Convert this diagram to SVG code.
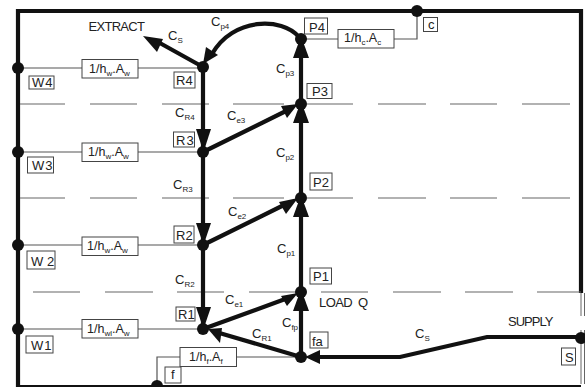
<svg xmlns="http://www.w3.org/2000/svg" width="585" height="387" viewBox="0 0 585 387">
<style>
text{font-family:"Liberation Sans",Arial,sans-serif;fill:#222;font-size:13px}
.r{font-size:12.5px}
.sub{font-size:8px}
.wall{fill:none;stroke:#111;stroke-width:4.2}
.thin{fill:none;stroke:#555;stroke-width:1.2}
.rail{fill:none;stroke:#666;stroke-width:1}
.dash{fill:none;stroke:#666;stroke-width:1.2}
.flow{fill:none;stroke:#111;stroke-width:4.2}
.box{fill:#fff;stroke:#444;stroke-width:1}
.dot{fill:#111}
.head{fill:#111}
</style>
<defs>
<circle id="n" r="6" class="dot"/>
</defs>
<rect width="585" height="387" fill="#fff"/>
<g id="connectors">
<path class="wall" d="M18 9V387M16 11H581V293M16 387H581"/>
<path class="rail" d="M581 293V316M584.5 293V316M581 330V384M584.5 330V384"/>
<path class="dash" d="M20 104H65M90 104H137M162 104H209M233 104H284"/>
<path class="dash" d="M20 198H65M90 198H137M162 198H209M233 198H284"/>
<path class="dash" d="M33 292H80M105 292H153M177 292H224M249 292H297"/>
<path class="dash" d="M307 104H353M378 104H426M450 104H497M522 104H570M307 198H353M378 198H426M450 198H497M522 198H570M321 292H368M393 292H441M465 292H513M537 292H581"/>
<path class="thin" d="M18 68H203M18 152H203M18 245H203M18 329H203M157 386V357H301M301 39H417V11"/>
<path class="flow" d="M203 67V329M301 39V357"/>
<path class="flow" d="M203 67L158 42M203 152L288 110M203 245L288 203M203 329L288 298M301 357L216 332M312 357H400L487 337H581"/>
<path class="flow" d="M299 37C282 17 233 17 212 54"/>
<g class="head">
<path d="M143 36L163 39L157 52Z"/>
<path d="M196 129H211L203.500 152Z"/>
<path d="M196 223H211L203.500 245Z"/>
<path d="M196 307H211L203.500 329Z"/>
<path d="M293 58H309L301 36Z"/>
<path d="M293 123H309L301 101Z"/>
<path d="M293 217H309L301 195Z"/>
<path d="M293 311H309L301 289Z"/>
<path d="M298 104L281 106L287 118Z"/>
<path d="M298 198L279 202L286 214Z"/>
<path d="M298 293L281 296L287 306Z"/>
<path d="M208 329L222 328L220 343Z"/>
<path d="M203 64L206 47L218 55Z"/>
<path d="M305 357L320 350V364Z"/>
</g>
</g>
<g id="W4"><use href="#n" x="18" y="68"/><rect class="box" x="29" y="76" width="25" height="13"/><text x="32" y="87" letter-spacing="1">W4</text></g>
<g id="W3"><use href="#n" x="18" y="152"/><rect class="box" x="27.500" y="157" width="26" height="16"/><text x="32" y="170" letter-spacing="1">W3</text></g>
<g id="W2"><use href="#n" x="18" y="245"/><rect class="box" x="27" y="251" width="28" height="18"/><text x="31" y="266">W 2</text></g>
<g id="W1"><use href="#n" x="18" y="329"/><rect class="box" x="26" y="336" width="27" height="17"/><text x="31" y="350" letter-spacing="1">W1</text></g>
<g id="R4"><use href="#n" x="203" y="67"/><rect class="box" x="174" y="72" width="21" height="16"/><text x="176" y="85">R4</text></g>
<g id="R3"><use href="#n" x="203" y="152"/><rect class="box" x="173.500" y="132" width="21" height="15"/><text x="176" y="145" letter-spacing="1">R3</text></g>
<g id="R2"><use href="#n" x="203" y="245"/><rect class="box" x="174" y="226" width="20" height="17"/><text x="176" y="240">R2</text></g>
<g id="R1"><use href="#n" x="203" y="329"/><rect class="box" x="176" y="307" width="19" height="14"/><text x="178" y="319">R1</text></g>
<g id="P4"><use href="#n" x="301" y="39"/><rect class="box" x="304.500" y="18" width="23" height="16"/><text x="309" y="32">P4</text></g>
<g id="P3"><use href="#n" x="301" y="104"/><rect class="box" x="307" y="83.500" width="25" height="15"/><text x="312" y="96">P3</text></g>
<g id="P2"><use href="#n" x="301" y="198"/><rect class="box" x="310" y="173" width="22" height="17"/><text x="313" y="187">P2</text></g>
<g id="P1"><use href="#n" x="301" y="292"/><rect class="box" x="310" y="268" width="21.500" height="16"/><text x="313" y="281">P1</text></g>
<g id="fa"><use href="#n" x="301" y="357"/><rect class="box" x="310" y="332" width="18" height="16"/><text x="312" y="346">fa</text></g>
<g id="c"><use href="#n" x="417" y="11"/><rect class="box" x="423.500" y="17.500" width="14" height="14"/><text x="428" y="29">c</text></g>
<g id="f"><use href="#n" x="157" y="386"/><rect class="box" x="165" y="367" width="16" height="16"/><text x="171" y="379">f</text></g>
<g id="S"><use href="#n" x="581" y="338"/><rect class="box" x="561.500" y="348" width="14" height="17"/><text x="565" y="362">S</text></g>
<g id="resistors">
<rect class="box" x="82" y="59.500" width="56" height="18.500"/><text class="r" x="89" y="72.500">1/h<tspan class="sub" dy="3">w</tspan><tspan dy="-3">.A</tspan><tspan class="sub" dy="3">w</tspan></text>
<rect class="box" x="82" y="143" width="56" height="18.500"/><text class="r" x="88" y="156">1/h<tspan class="sub" dy="3">w</tspan><tspan dy="-3">.A</tspan><tspan class="sub" dy="3">w</tspan></text>
<rect class="box" x="82" y="237" width="56" height="18.500"/><text class="r" x="87" y="250">1/h<tspan class="sub" dy="3">w</tspan><tspan dy="-3">.A</tspan><tspan class="sub" dy="3">w</tspan></text>
<rect class="box" x="82" y="319.500" width="56" height="18.500"/><text class="r" x="87" y="333">1/h<tspan class="sub" dy="3">wl</tspan><tspan dy="-3">.A</tspan><tspan class="sub" dy="3">w</tspan></text>
<rect class="box" x="180" y="347.500" width="56.500" height="19"/><text class="r" x="189" y="361">1/h<tspan class="sub" dy="3">f</tspan><tspan dy="-3">.A</tspan><tspan class="sub" dy="3">f</tspan></text>
<rect class="box" x="338" y="29.500" width="56" height="18.500"/><text class="r" x="344" y="42">1/h<tspan class="sub" dy="3">c</tspan><tspan dy="-3">.A</tspan><tspan class="sub" dy="3">c</tspan></text>
</g>
<g id="labels">
<text x="88.500" y="31" letter-spacing="-0.7">EXTRACT</text>
<text x="168" y="40">C<tspan class="sub" dy="3">S</tspan></text>
<text x="211" y="26">C<tspan class="sub" dy="3">p4</tspan></text>
<text x="276" y="73">C<tspan class="sub" dy="3">p3</tspan></text>
<text x="276" y="157">C<tspan class="sub" dy="3">p2</tspan></text>
<text x="277" y="253">C<tspan class="sub" dy="3">p1</tspan></text>
<text x="282" y="327">C<tspan class="sub" dy="3">fp</tspan></text>
<text x="175" y="117">C<tspan class="sub" dy="3">R4</tspan></text>
<text x="173" y="189">C<tspan class="sub" dy="3">R3</tspan></text>
<text x="175" y="284">C<tspan class="sub" dy="3">R2</tspan></text>
<text x="252" y="338">C<tspan class="sub" dy="3">R1</tspan></text>
<text x="227" y="120">C<tspan class="sub" dy="3">e3</tspan></text>
<text x="228" y="216">C<tspan class="sub" dy="3">e2</tspan></text>
<text x="225" y="304">C<tspan class="sub" dy="3">e1</tspan></text>
<text x="415" y="338">C<tspan class="sub" dy="3">S</tspan></text>
<text x="319" y="307" letter-spacing="-0.6" xml:space="preserve">LOAD  Q</text>
<text x="508" y="326" letter-spacing="-1">SUPPLY</text>
</g>
</svg>
